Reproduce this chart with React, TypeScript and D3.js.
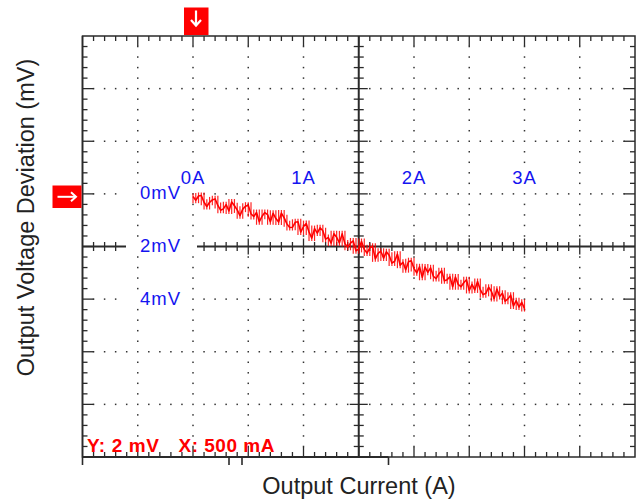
import React from 'react';
import * as d3 from 'd3';

// Trace: output voltage deviation (mV, positive = downward on screen) sampled evenly from 0 A to 3 A
const TRACE_CURRENT_SPAN = [0, 3];
const DEVIATION_MV = [
  0.10, 0.24, 0.08, 0.06, 0.32, 0.48, 0.32, 0.23, 0.19, 0.44,
  0.62, 0.57, 0.41, 0.65, 0.31, 0.45, 0.61, 0.83, 0.58, 0.47,
  0.43, 0.76, 0.86, 0.71, 1.06, 0.85, 0.71, 0.79, 1.06, 0.74,
  0.94, 1.07, 0.73, 0.91, 1.14, 1.28, 1.27, 1.08, 1.06, 1.45,
  1.24, 1.13, 1.45, 1.68, 1.32, 1.49, 1.29, 1.40, 1.72, 1.66,
  1.87, 1.52, 1.65, 1.86, 1.52, 1.89, 2.03, 1.87, 1.79, 2.16,
  2.10, 1.81, 2.11, 2.25, 2.05, 1.99, 2.47, 2.26, 2.18, 2.44,
  2.20, 2.33, 2.63, 2.56, 2.29, 2.71, 2.60, 2.88, 2.58, 2.54,
  2.84, 3.00, 2.77, 3.17, 2.78, 2.98, 2.81, 3.13, 3.22, 3.04,
  2.92, 3.30, 3.26, 3.15, 3.53, 3.16, 3.44, 3.53, 3.38, 3.26,
  3.67, 3.44, 3.65, 3.33, 3.64, 3.83, 3.78, 3.55, 3.70, 3.98,
  3.62, 3.90, 3.78, 4.08, 3.99, 3.85, 4.26, 4.06, 4.30, 4.12,
  4.36,
];

const X_DOMAIN = [-1, 4]; // A (10 divisions of 500 mA)
const Y_DOMAIN = [-6, 10]; // mV (8 divisions of 2 mV)
const X_MAJOR_STEP = 0.5;
const Y_MAJOR_STEP = 2;
const MINOR_PER_MAJOR = 5;
const X_CENTER = 1.5;
const Y_CENTER = 2;

const X_LABEL_VALUES = [0, 1, 2, 3];
const X_LABELS = ['0A', '1A', '2A', '3A'];
const Y_LABEL_VALUES = [0, 2, 4];
const Y_LABELS = ['0mV', '2mV', '4mV'];

const X_TITLE = 'Output Current (A)';
const Y_TITLE = 'Output Voltage Deviation (mV)';
const SCALE_NOTE_Y = 'Y: 2 mV';
const SCALE_NOTE_X = 'X: 500 mA';

const FONT = '"Liberation Sans", Arial, Helvetica, sans-serif';
const AXIS = '#2a2a2a';
const RED = '#ff0000';
const BLUE = '#1414f0';

export default function App() {
  const W = 642, H = 502;
  const L = 82.5, R = 635, T = 36, B = 457;
  const x = d3.scaleLinear().domain(X_DOMAIN).range([L, R]);
  const y = d3.scaleLinear().domain(Y_DOMAIN).range([T, B]);

  const xMinorStep = X_MAJOR_STEP / MINOR_PER_MAJOR;
  const yMinorStep = Y_MAJOR_STEP / MINOR_PER_MAJOR;
  const nX = Math.round((X_DOMAIN[1] - X_DOMAIN[0]) / xMinorStep);
  const nY = Math.round((Y_DOMAIN[1] - Y_DOMAIN[0]) / yMinorStep);
  const xMinor = d3.range(nX + 1).map((i) => ({ v: X_DOMAIN[0] + i * xMinorStep, major: i % MINOR_PER_MAJOR === 0, i }));
  const yMinor = d3.range(nY + 1).map((i) => ({ v: Y_DOMAIN[0] + i * yMinorStep, major: i % MINOR_PER_MAJOR === 0, i }));
  const xMajors = xMinor.filter((d) => d.major && d.i > 0 && d.i < nX && Math.abs(d.v - X_CENTER) > 1e-6);
  const yMajors = yMinor.filter((d) => d.major && d.i > 0 && d.i < nY && Math.abs(d.v - Y_CENTER) > 1e-6);

  const step = (TRACE_CURRENT_SPAN[1] - TRACE_CURRENT_SPAN[0]) / (DEVIATION_MV.length - 1);
  const pts: [number, number][] = DEVIATION_MV.map((v, i) => [TRACE_CURRENT_SPAN[0] + i * step, v]);
  const line = d3.line<[number, number]>().x((d) => x(d[0])).y((d) => y(d[1]));

  // per-sample envelope (min..max of the sample and its neighbours), drawn as vertical strokes
  const env = pts.map((d, i) => {
    const nb = [DEVIATION_MV[Math.max(0, i - 1)], d[1], DEVIATION_MV[Math.min(DEVIATION_MV.length - 1, i + 1)]];
    return { c: d[0], lo: d3.min(nb) as number, hi: d3.max(nb) as number };
  });

  const cx = x(X_CENTER), cy = y(Y_CENTER);

  const dots: JSX.Element[] = [];
  yMajors.forEach((g) => {
    xMinor.forEach((m) => {
      if (m.i === 0 || m.i === nX) return;
      if (Math.abs(m.v - X_CENTER) < 1e-6) return;
      dots.push(<rect key={`h${g.i}-${m.i}`} x={x(m.v) - 0.75} y={y(g.v) - 0.75} width={1.5} height={1.5} fill="#333" />);
    });
  });
  xMajors.forEach((g) => {
    yMinor.forEach((m) => {
      if (m.i === 0 || m.i === nY || m.major) return;
      dots.push(<rect key={`v${g.i}-${m.i}`} x={x(g.v) - 0.75} y={y(m.v) - 0.75} width={1.5} height={1.5} fill="#333" />);
    });
  });

  const ticks: JSX.Element[] = [];
  xMinor.forEach((m) => {
    if (m.i === 0 || m.i === nX) return;
    const len = m.major ? 10 : 5;
    const px = x(m.v);
    ticks.push(<line key={`tt${m.i}`} x1={px} x2={px} y1={T} y2={T + len} />);
    ticks.push(<line key={`tb${m.i}`} x1={px} x2={px} y1={B} y2={B - len} />);
    const c = m.major ? 8 : 4.5;
    ticks.push(<line key={`tc${m.i}`} x1={px} x2={px} y1={cy - c} y2={cy + c} />);
  });
  yMinor.forEach((m) => {
    if (m.i === 0 || m.i === nY) return;
    const len = m.major ? 11 : 5;
    const py = y(m.v);
    ticks.push(<line key={`tl${m.i}`} x1={L} x2={L + len} y1={py} y2={py} />);
    ticks.push(<line key={`tr${m.i}`} x1={R} x2={R - len} y1={py} y2={py} />);
    const c = m.major ? 9 : 5;
    ticks.push(<line key={`tm${m.i}`} x1={cx - c} x2={cx + c} y1={py} y2={py} />);
  });

  return (
    <svg width={W} height={H} style={{ position: 'absolute', left: 0, top: 0, background: '#fff' }} fontFamily={FONT}>
      <rect x={0} y={0} width={W} height={H} fill="#fff" />
      {dots}
      <g stroke={AXIS} strokeWidth={1.3}>{ticks}</g>
      {/* frame */}
      <rect x={L} y={T} width={R - L} height={B - T} fill="none" stroke={AXIS} strokeWidth={1.5} />
      {/* center axes */}
      <line x1={L} x2={R} y1={cy} y2={cy} stroke={AXIS} strokeWidth={2} />
      <line x1={cx} x2={cx} y1={T} y2={B} stroke={AXIS} strokeWidth={2} />
      {/* overlay axis artefact along the bottom */}
      <g stroke={AXIS} strokeWidth={1.6}>
        <line x1={L} x2={L + 306} y1={B} y2={B} strokeWidth={2.2} />
        <line x1={L} x2={L} y1={T} y2={B + 8} />
        <line x1={L + 146.5} x2={L + 146.5} y1={B} y2={B + 8} />
        <line x1={L + 159.5} x2={L + 159.5} y1={B} y2={B + 8} />
        <line x1={L + 306} x2={L + 306} y1={B} y2={B + 8} />
      </g>

      {/* label backgrounds */}
      {Y_LABEL_VALUES.map((v, i) => (
        <rect key={`yb${i}`} x={v === Y_CENTER ? 126 : 122} y={y(v) - 9} width={v === Y_CENTER ? 71 : 68} height={18} fill="#fff" />
      ))}
      {X_LABEL_VALUES.map((v, i) => (
        <rect key={`xb${i}`} x={x(v) - 13} y={170} width={26} height={15} fill="#fff" />
      ))}

      {/* trace */}
      <g stroke={RED} strokeWidth={1.2} opacity={0.85}>
        {env.map((d, i) => (
          <line key={`s${i}`} x1={x(d.c)} x2={x(d.c)} y1={y(d.lo) - 3} y2={y(d.hi) + 3} />
        ))}
      </g>
      <path d={line(pts) || ''} fill="none" stroke={RED} strokeWidth={1.6} strokeLinejoin="round" />

      {/* blue labels */}
      {X_LABEL_VALUES.map((v, i) => (
        <text key={`xl${i}`} x={x(v)} y={184} textAnchor="middle" fontSize={18.5} letterSpacing={1} fill={BLUE}>{X_LABELS[i]}</text>
      ))}
      {Y_LABEL_VALUES.map((v, i) => (
        <text key={`yl${i}`} x={140} y={y(v) + 5.5} fontSize={18.5} letterSpacing={1} fill={BLUE}>{Y_LABELS[i]}</text>
      ))}

      {/* scale note */}
      <text x={87} y={451.5} fontSize={19} fontWeight="bold" letterSpacing={0.6} fill={RED}>{SCALE_NOTE_Y}</text>
      <text x={178.5} y={451.5} fontSize={19} fontWeight="bold" letterSpacing={0.5} fill={RED}>{SCALE_NOTE_X}</text>

      {/* trigger / reference markers */}
      <rect x={184} y={7.5} width={24.5} height={27.5} fill={RED} />
      <g stroke="#fff" strokeWidth={2.2} fill="none">
        <line x1={196} x2={196} y1={10.5} y2={25} />
        <polyline points="191,20 196,25.5 201,20" />
      </g>
      <rect x={52.5} y={185.5} width={29} height={22.5} fill={RED} />
      <g stroke="#fff" strokeWidth={2} fill="none">
        <line x1={57.5} x2={75.5} y1={196.8} y2={196.8} />
        <polyline points="71,192.3 76,196.8 71,201.3" />
      </g>

      {/* axis titles */}
      <text x={359} y={494} textAnchor="middle" fontSize={23.5} fill="#222">{X_TITLE}</text>
      <text transform={`translate(33.5,217.5) rotate(-90)`} textAnchor="middle" fontSize={23.5} fill="#222">{Y_TITLE}</text>
    </svg>
  );
}
